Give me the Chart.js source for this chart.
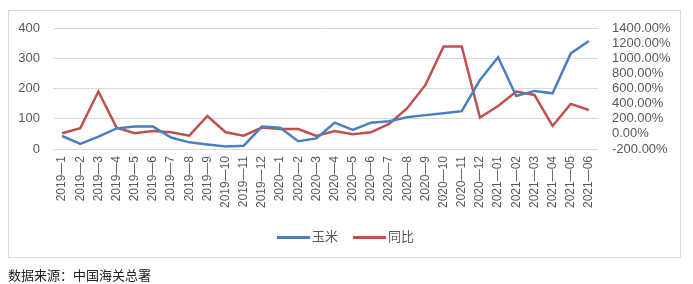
<!DOCTYPE html>
<html>
<head>
<meta charset="utf-8">
<script src="https://cdn.jsdelivr.net/npm/chart.js@4/dist/chart.umd.min.js"></script>
<style>
  html, body { margin:0; padding:0; background:#fff; }
  #wrap { position:relative; width:693px; height:284px; overflow:hidden; }
  #frame { position:absolute; left:8px; top:10px; width:673px; height:248px; border:1px solid #d9d9d9; box-sizing:border-box; }
  #c { position:absolute; left:0; top:0; }
  .leg { position:absolute; top:226px; font:13px "Noto Sans CJK SC", sans-serif; color:#595959; }
  .leg i { display:inline-block; width:33px; height:3px; vertical-align:middle; margin-right:2px; }
  #src { position:absolute; left:8px; top:265px; font:13px "Noto Sans CJK SC", sans-serif; color:#222; }
</style>
</head>
<body>
<div id="wrap">
  <div id="frame"></div>
  <canvas id="c" width="693" height="284"></canvas>
  <div class="leg" style="left:277px"><i style="background:#4A7FC1"></i>玉米</div>
  <div class="leg" style="left:353px"><i style="background:#C0504D"></i>同比</div>
  <div id="src">数据来源：中国海关总署</div>
</div>
<script>
// ── 데이터 ───────────────────────────────────────────
const months = [
  "2019—1","2019—2","2019—3","2019—4","2019—5","2019—6","2019—7","2019—8","2019—9","2019—10","2019—11","2019—12",
  "2020—1","2020—2","2020—3","2020—4","2020—5","2020—6","2020—7","2020—8","2020—9","2020—10","2020—11","2020—12",
  "2021—01","2021—02","2021—03","2021—04","2021—05","2021—06"
];
// 玉米 (左轴)
const corn = [43,17,41,68,74,74,38,22,15,8,11,74, 70,26,35,87,63,87,92,105,112,118,125,228, 303,175,192,184,316,357];
// 同比 (右轴, %)
const yoy  = [8,74,560,83,8,38,21,-23,237,21,-23,83, 65,65,-28,38,-5,21,131,339,647,1155,1155,215, 369,559,515,105,396,316];

const leftTicks  = [0,100,200,300,400];
const rightTicks = [-200,0,200,400,600,800,1000,1200,1400];

const tickFont  = { family:"'Liberation Sans', sans-serif", size:12 };
const yFont     = { family:"'Liberation Sans', sans-serif", size:13 };
const tickColor = "#595959";

new Chart(document.getElementById("c").getContext("2d"), {
  type: "line",
  data: {
    labels: months,
    datasets: [
      { label:"玉米", data:corn, yAxisID:"y",  borderColor:"#4A7FC1", borderWidth:2.5, pointRadius:0, tension:0, fill:false },
      { label:"同比", data:yoy,  yAxisID:"y2", borderColor:"#C0504D", borderWidth:2.5, pointRadius:0, tension:0, fill:false },
    ]
  },
  options: {
    responsive:false, animation:false,
    layout:{ padding:{ top:28, left:0, right:0, bottom:0 } },
    plugins:{ legend:{ display:false }, tooltip:{ enabled:false } },
    scales: {
      x: {
        offset:true,
        grid:{ display:false, drawTicks:false },
        border:{ display:false },
        ticks:{ color:tickColor, font:tickFont, minRotation:90, maxRotation:90, autoSkip:false, padding:7 },
        afterFit:(a)=>{ a.height = 284 - 149; },
      },
      y: {
        position:"left", min:0, max:400,
        grid:{ color:"#d9d9d9", drawTicks:false },
        border:{ display:false },
        ticks:{ color:tickColor, font:yFont, padding:13, autoSkip:false },
        afterBuildTicks:(a)=>{ a.ticks = leftTicks.map(v=>({value:v})); },
        afterFit:(a)=>{ a.width = 53; },
      },
      y2: {
        position:"right", min:-200, max:1400,
        grid:{ display:false, drawTicks:false },
        border:{ display:false },
        ticks:{ color:tickColor, font:yFont, padding:14, autoSkip:false, callback:(v)=>v.toFixed(2)+"%" },
        afterBuildTicks:(a)=>{ a.ticks = rightTicks.map(v=>({value:v})); },
        afterFit:(a)=>{ a.width = 693 - 598; },
      },
    },
  },
});
</script>
</body>
</html>
